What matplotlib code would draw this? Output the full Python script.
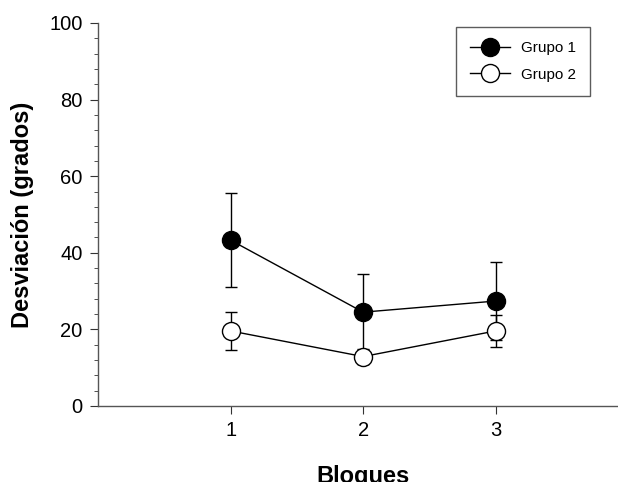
import matplotlib.pyplot as plt
import numpy as np

plt.rcParams['font.family'] = ['Liberation Sans', 'DejaVu Sans']

# datos
bloques = [1, 2, 3]
grupo1 = [43.3, 24.5, 27.4]
grupo1_err = [12.2, 10.0, 10.3]
grupo2 = [19.6, 12.9, 19.6]
grupo2_err = [4.9, 2.0, 4.2]

fig = plt.figure(figsize=(6.18, 4.82), dpi=100)
ax = fig.add_axes([0.1586, 0.1577, 0.858, 0.7946])

# barras de error (sin leyenda)
ax.errorbar(bloques, grupo1, yerr=grupo1_err, fmt='none', ecolor='black',
            elinewidth=1, capsize=4, capthick=1, zorder=2)
ax.errorbar(bloques, grupo2, yerr=grupo2_err, fmt='none', ecolor='black',
            elinewidth=1, capsize=4, capthick=1, zorder=3)

# lineas con marcadores
ax.plot(bloques, grupo1, color='black', lw=1, marker='o', ms=13,
        mfc='black', mec='black', label='Grupo 1', zorder=2.5)
ax.plot(bloques, grupo2, color='black', lw=1, marker='o', ms=13,
        mfc='white', mec='black', label='Grupo 2', zorder=3.5)

ax.set_xlim(0, 4)
ax.set_ylim(0, 100)
ax.set_xticks(bloques)
ax.set_yticks(np.arange(0, 101, 20))
ax.set_yticks(np.arange(0, 101, 4), minor=True)

ax.spines['top'].set_visible(False)
ax.spines['right'].set_visible(False)
for s in ['left', 'bottom']:
    ax.spines[s].set_color('#555555')
    ax.spines[s].set_linewidth(1)

ax.tick_params(axis='both', which='major', labelsize=14.5, length=6,
               color='#333333', pad=5)
ax.tick_params(axis='y', which='minor', length=3, color='#333333')

ax.set_xlabel('Bloques', fontsize=17, fontweight='bold', labelpad=18)
ax.set_ylabel('Desviación (grados)', fontsize=17, fontweight='bold', labelpad=11)

leg = ax.legend(loc='upper left', bbox_to_anchor=(0.675, 0.99), fontsize=11,
                frameon=True, fancybox=False, edgecolor='#333333',
                handlelength=2.6, handletextpad=0.7, borderpad=0.95,
                labelspacing=0.8, borderaxespad=0)
leg.get_frame().set_linewidth(1)

fig.savefig('out.png', dpi=100)
